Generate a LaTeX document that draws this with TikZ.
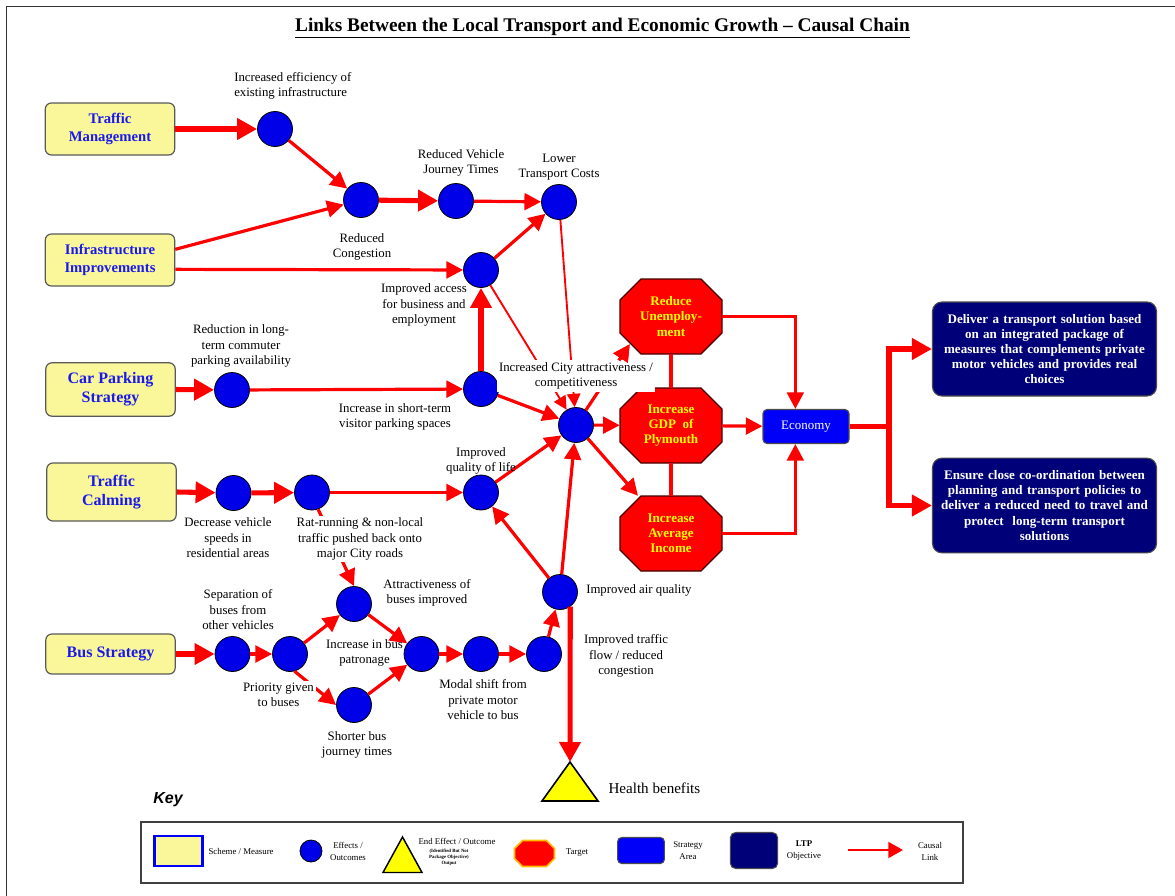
\documentclass[tikz,border=0pt]{standalone}
\usepackage{fontspec}
\setmainfont{Liberation Serif}
\newfontfamily\keyfont{Liberation Sans}
\usetikzlibrary{arrows.meta,shapes.geometric,calc}

\definecolor{schemefill}{RGB}{250,247,155}
\definecolor{schemetext}{RGB}{25,25,235}
\definecolor{effblue}{RGB}{0,0,232}
\definecolor{areablue}{RGB}{0,0,250}
\definecolor{ltpnavy}{RGB}{0,0,120}
\definecolor{linkred}{RGB}{255,0,0}
\definecolor{targetyellow}{RGB}{255,255,0}
\definecolor{targetedge}{RGB}{70,0,0}
\definecolor{keyedge}{RGB}{255,190,0}

\newcommand\lblfont{\fontsize{9.6pt}{11.6pt}\selectfont}
\newcommand\keytxtfont{\fontsize{6.6pt}{9pt}\selectfont}
% octagon outline: centre x, centre y, half width, half height, chamfer (all in px units)
\newcommand\octpath[5]{%
  (#1-#3+#5,#2-#4) -- (#1+#3-#5,#2-#4) -- (#1+#3,#2-#4+#5) -- (#1+#3,#2+#4-#5) --
  (#1+#3-#5,#2+#4) -- (#1-#3+#5,#2+#4) -- (#1-#3,#2+#4-#5) -- (#1-#3,#2-#4+#5) -- cycle}

\begin{document}
\begin{tikzpicture}[x=0.75pt,y=-0.75pt,
  scheme/.style={rectangle, rounded corners=4.5pt, draw=black!65, line width=0.9pt,
    fill=schemefill, text=schemetext, font=\bfseries\fontsize{11pt}{13.5pt}\selectfont,
    align=center, minimum width=97pt, inner sep=0pt},
  schemebig/.style={scheme, font=\bfseries\fontsize{12pt}{14pt}\selectfont},
  effect/.style={circle, draw=black, line width=0.6pt, fill=effblue,
    minimum size=26.25pt, inner sep=0pt},
  octo/.style={draw=targetedge, line width=0.9pt, fill=linkred, line join=miter},
  target/.style={rectangle, text=targetyellow, font=\bfseries\fontsize{9.8pt}{11.3pt}\selectfont,
    align=center, minimum width=76.5pt, minimum height=56.25pt, inner sep=0pt},
  area/.style={rectangle, rounded corners=3pt, draw=black!70, line width=0.8pt,
    fill=areablue, text=white, font=\fontsize{9.7pt}{11pt}\selectfont, inner sep=0pt},
  ltp/.style={rectangle, rounded corners=7pt, draw=black!70, line width=0.8pt,
    fill=ltpnavy, text=white, font=\bfseries\fontsize{9.8pt}{11.4pt}\selectfont,
    align=center, text width=168pt, inner sep=0pt},
  lbl/.style={font=\lblfont, align=center, inner sep=1.5pt},
  lblw/.style={lbl, fill=white},
  keytxt/.style={font=\keytxtfont, align=center, inner sep=1pt},
  link/.style={draw=linkred, line width=2.4pt, -{Triangle[length=12.5pt,width=12.5pt]}},
  linkT/.style={draw=linkred, line width=3.8pt, -{Triangle[length=15pt,width=15.5pt]}},
  linkS/.style={draw=linkred, line width=1.4pt, -{Triangle[length=10pt,width=10pt]}},
  bar/.style={draw=linkred, line width=2.4pt},
  barT/.style={draw=linkred, line width=3.8pt}
]
\useasboundingbox (0,0) rectangle (1175,896);
\fill[white] (0,0) rectangle (1175,896);

% page frame
\draw[black!80, line width=1.3pt] (6.5,896) -- (6.5,6.5) -- (1175,6.5);

% title
\node[font=\bfseries\fontsize{14.5pt}{17pt}\selectfont] (title) at (602.5,28)
  {\underline{Links Between the Local Transport and Economic Growth -- Causal Chain}};

% schemes / measures
\node[scheme, minimum height=39pt] (tm) at (110,129) {Traffic\\Management};
\node[scheme, minimum height=39pt] (ii) at (110,260) {Infrastructure\\Improvements};
\node[schemebig, minimum height=40pt] (cps) at (110.5,389.5) {Car Parking\\Strategy};
\node[schemebig, minimum height=43.5pt] (tc) at (111.5,492) {Traffic\\Calming};
\node[schemebig, minimum height=30pt] (bs) at (110.5,654) {Bus Strategy};

% effects / outcomes
\node[effect] (eff)  at (275,129) {};
\node[effect] (rc)   at (361,200) {};
\node[effect] (rvjt) at (456,201) {};
\node[effect] (ltc)  at (559,202) {};
\node[effect] (iabe) at (481,270) {};
\node[effect] (lts)  at (232,390) {};
\node[effect] (vis)  at (481,389) {};
\node[effect] (hub)  at (576,425) {};
\node[effect] (dvs)  at (233.5,493) {};
\node[effect] (rat)  at (312,492.5) {};
\node[effect] (qol)  at (481,492.5) {};
\node[effect] (air)  at (560,592) {};
\node[effect] (att)  at (354,604) {};
\node[effect] (sep)  at (232.5,654) {};
\node[effect] (pri)  at (290,654) {};
\node[effect] (pat)  at (421.5,654) {};
\node[effect] (sbj)  at (354,705) {};
\node[effect] (mod)  at (481,654) {};
\node[effect] (flow) at (544,654) {};

% end effect
\coordinate (health) at (570,762);
\draw[fill=targetyellow, draw=black, line width=1.2pt, line join=miter]
  (health) -- (598,801) -- (542,801) -- cycle;

% targets: octagon outlines, then the text nodes on top
\path[octo] \octpath{671}{316.5}{51}{37.5}{21};
\path[octo] \octpath{671}{425.5}{51}{37.5}{21};
\path[octo] \octpath{671}{533.5}{51}{37.5}{21};
\node[target] (ru)  at (671,316.5) {Reduce\\Unemploy-\\ment};
\node[target] (gdp) at (671,425.5) {Increase\\GDP\ \ of\\Plymouth};
\node[target] (ai)  at (671,533.5) {Increase\\Average\\Income};
\coordinate (ru-in) at ($(ru.south west)+(10,-10)$);

% strategy area
\node[area, minimum width=64.5pt, minimum height=25.5pt] (eco) at (806,426.5) {Economy};

% LTP objectives
\node[ltp, minimum height=70.5pt] (obj1) at (1044.5,349)
  {Deliver a transport solution based\\on an integrated package of\\measures that complements private\\motor vehicles and provides real\\choices};
\node[ltp, minimum height=71pt] (obj2) at (1044.5,505.5)
  {Ensure close co-ordination between\\planning and transport policies to\\deliver a reduced need to travel and\\protect\ \ long-term transport\\solutions};

% causal links
\draw[linkT] (tm.east) -- (eff);
\draw[link]  (eff) -- (rc);
\draw[link]  ([yshift=8pt]ii.east) -- (rc);
\draw[link]  ([yshift=-7pt]ii.east) -- (iabe);
\draw[linkT] (rc) -- (rvjt);
\draw[link]  (rvjt) -- (ltc);
\draw[link]  (iabe) -- (ltc);
\draw[linkT] (vis) -- (iabe);
\draw[linkS] (ltc) -- (hub);
\draw[linkS] (iabe) -- (hub);
\draw[linkT] (cps.east) -- (lts);
\draw[link]  (lts) -- (vis);
\draw[link]  (vis) -- (hub);
\draw[link]  (hub) -- (gdp);
\draw[link]  (hub) -- (ru-in);
\draw[link]  (hub) -- (ai);
\draw[linkT] (tc.east) -- (dvs);
\draw[linkT] (dvs) -- (rat);
\draw[link]  (rat) -- (qol);
\draw[link]  (qol) -- (hub);
\draw[link]  (air) -- (qol);
\draw[link]  (air) -- (hub);
\draw[link]  (rat.-70) -- (att.north);
\draw[linkT] (bs.east) -- (sep);
\draw[link]  (sep) -- (pri);
\draw[link]  (pri) -- (att);
\draw[link]  (pri.-75) -- (sbj.west);
\draw[link]  (att) -- (pat);
\draw[link]  (sbj) -- (pat);
\draw[link]  (pat) -- (mod);
\draw[link]  (mod) -- (flow);
\draw[link]  (flow) -- (air);
\draw[linkT] (air.-55) -- (health);

% targets to economy
\draw[bar] (ru.south) -- (gdp.north);
\draw[bar] (gdp.south) -- (ai.north);
\draw[link] (ru.east) -| ([xshift=-8pt]eco.north);
\draw[link] (ai.east) -| ([xshift=-8pt]eco.south);
\draw[link] (gdp) -- (eco);

% economy to objectives
\coordinate (fork) at (889,426.5);
\draw[barT] (eco.east) -- (fork);
\draw[linkT] (fork) |- (obj1.west);
\draw[linkT] (fork) |- (obj2.west);

% labels
\node[lbl, align=left, anchor=west] (l-eff) at (232,86) {Increased efficiency of\\existing infrastructure};
\node[lbl] (l-rvjt) at (461,163) {Reduced Vehicle\\Journey Times};
\node[lbl] (l-ltc)  at (559,167) {Lower\\Transport Costs};
\node[lbl] (l-rc)   at (362,247) {Reduced\\Congestion};
\node[lbl] (l-iabe) at (424,305) {Improved access\\for business and\\employment};
\node[lbl] (l-lts)  at (241,346) {Reduction in long-\\term commuter\\parking availability};
\node[lbl] (l-vis)  at (395,417) {Increase in short-term\\visitor parking spaces};
\node[lblw] (l-hub) at (576,376) {Increased City attractiveness /\\competitiveness};
\node[lbl] (l-qol)  at (481,461) {Improved\\quality of life};
\node[lbl] (l-dvs)  at (228,538) {Decrease vehicle\\speeds in\\residential areas};
\node[lblw] (l-rat) at (360,539) {Rat-running \& non-local\\traffic pushed back onto\\major City roads};
\node[lbl] (l-att)  at (427,593) {Attractiveness of\\buses improved};
\node[lbl] (l-sep)  at (238,610) {Separation of\\buses from\\other vehicles};
\node[lbl] (l-pat)  at (364.5,653) {Increase in bus\\patronage};
\node[lblw] (l-pri) at (278.5,695) {Priority given\\to buses};
\node[lbl] (l-sbj)  at (357,745) {Shorter bus\\journey times};
\node[lbl] (l-mod)  at (483,700) {Modal shift from\\private motor\\vehicle to bus};
\node[lbl, anchor=west] (l-air) at (584,590) {Improved air quality};
\node[lbl] (l-flow) at (626,656) {Improved traffic\\flow / reduced\\congestion};
\node[font=\fontsize{11.3pt}{13pt}\selectfont, anchor=west, inner sep=1pt] (l-health) at (607,788) {Health benefits};

% arrowhead of the hub-to-unemployment link stays in front of its label
\draw[link] ($(hub)!0.8!(ru-in)$) -- (ru-in);

% key
\node[font=\keyfont\bfseries\itshape\fontsize{12pt}{14pt}\selectfont] (keytitle) at (168,800) {Key};
\node[draw=black!75, line width=1pt, minimum width=616.5pt, minimum height=45.75pt, inner sep=0pt]
  (keybox) at (552,852.5) {};
\node[draw=areablue, line width=2.2pt, fill=schemefill, minimum width=36.5pt,
  minimum height=22.5pt, inner sep=0pt] (k-scheme) at (178.5,851) {};
\node[keytxt, anchor=west] (k-scheme-t) at (207,851) {Scheme / Measure};
\node[effect, minimum size=16.5pt] (k-eff) at (311,851) {};
\node[keytxt] (k-eff-t) at (348,851) {Effects /\\Outcomes};
\coordinate (k-end) at (402.5,837);
\draw[fill=targetyellow, draw=black, line width=1.1pt, line join=miter]
  (k-end) -- (422,872.5) -- (383,872.5) -- cycle;
\node[keytxt] (k-end-t) at (457,841) {End Effect / Outcome};
\node[font=\bfseries\fontsize{3.6pt}{4.4pt}\selectfont, align=center, inner sep=0pt]
  (k-end-s) at (449,857) {(Identified But Not\\Package Objective)\\Output};
\path[fill=linkred, draw=keyedge, line width=1.3pt, line join=miter] \octpath{534.5}{853.5}{20}{13}{8};
\node[minimum width=30pt, minimum height=19.5pt, inner sep=0pt] (k-target) at (534.5,853.5) {};
\node[keytxt] (k-target-t) at (577,853) {Target};
\node[area, minimum width=35pt, minimum height=19.5pt] (k-area) at (641,850.5) {};
\node[keytxt] (k-area-t) at (688,851) {Strategy\\Area};
\node[ltp, text width=, minimum width=35.5pt, minimum height=27pt, rounded corners=4pt]
  (k-ltp) at (754,850.5) {};
\node[keytxt] (k-ltp-t) at (804,850.5) {\textbf{LTP}\\Objective};
\coordinate (k-a1) at (848,850);
\coordinate (k-a2) at (903,850);
\draw[draw=linkred, line width=1.4pt, -{Triangle[length=11pt,width=12pt]}] (k-a1) -- (k-a2);
\node[keytxt] (k-link-t) at (930,851) {Causal\\Link};
\end{tikzpicture}
\end{document}
